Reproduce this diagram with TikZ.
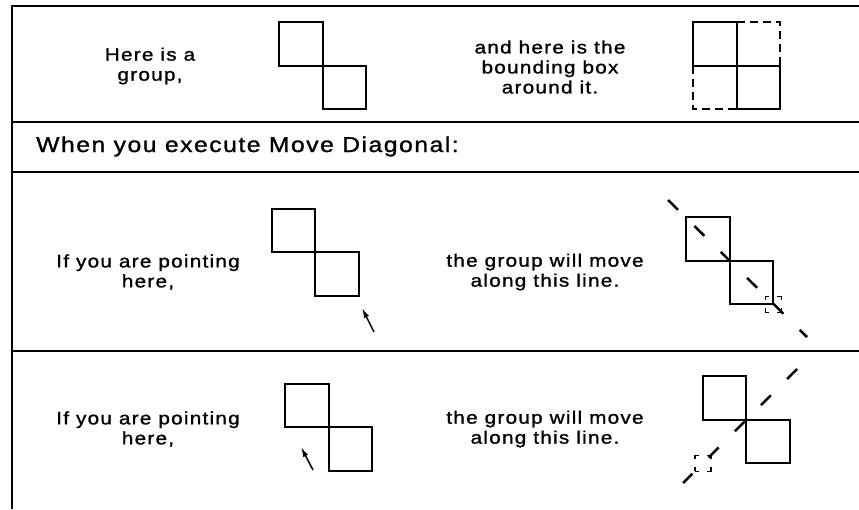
\documentclass[tikz,border=0pt]{standalone}
\usepackage{fontspec}
\setmainfont{Liberation Sans}[LetterSpace=7, FakeStretch=1.15, FakeBold=1.2]
\usetikzlibrary{arrows.meta}

\begin{document}
\begin{tikzpicture}[x=1pt, y=-1pt,
  every node/.style={font=\fontsize{18}{20}\selectfont, align=center, inner sep=0pt},
  sq/.style={draw, line width=2.2pt, minimum size=43.5pt, outer sep=0pt},
  rule/.style={line width=2pt},
  bbdash/.style={line width=2.2pt, dash pattern=on 8pt off 5pt},
  diag/.style={line width=2.5pt, dash pattern=on 14pt off 23pt},
  cornerbox/.style={draw, line width=1.5pt, minimum size=16pt, outer sep=0pt, dash pattern=on 8pt off 8pt, dash phase=4pt},
  ptr/.style={line width=1.5pt, -{Latex[length=10pt, width=5.5pt]}}]
\useasboundingbox (0,0) rectangle (859,509);
% panel rules
\coordinate (tl) at (12,6);
\coordinate (tr) at (859,6);
\coordinate (bl) at (12,509);
\draw[rule] (tr) -- (tl) -- (bl);
\foreach \y in {122,172,351}
  \draw[rule] (12,\y) -- (859,\y);

% a group and its bounding box
\node (here) at (150,66) {Here is a\\group,};
\node[sq] (ga) at (301,44) {};
\node[sq, anchor=north west] (gb) at (ga.south east) {};
\node (bbtext) at (550,67) {and here is the\\bounding box\\around it.};
\node[sq] (ba) at (715,44) {};
\node[sq, anchor=north west] (bb) at (ba.south east) {};
\draw[bbdash] (ba.north east) -- (ba.north east -| bb.east) -- (bb.north east);
\draw[bbdash] (ba.south west) -- (ba.south west |- bb.south) -- (bb.south west);

\node[font=\fontsize{21.5}{24}\selectfont, anchor=base west] (when) at (36,152) {When you execute Move Diagonal:};

% pointing below right
\node (point3) at (148,272) {If you are pointing\\here,};
\node[sq] (la) at (293.5,230.5) {};
\node[sq, anchor=north west] (lb) at (la.south east) {};
\coordinate (p3) at (374,332);
\coordinate (p3tip) at (362,308);
\draw[ptr] (p3) -- (p3tip);
\node (move3) at (545,272) {the group will move\\along this line.};
\node[sq] (ra) at (708,239) {};
\node[sq, anchor=north west] (rb) at (ra.south east) {};
\coordinate (d3a) at (668,200);
\coordinate (d3b) at (807,337);
\draw[diag] (d3a) -- (d3b);
\node[cornerbox] (c3) at (rb.south east) {};

% pointing below left
\node (point4) at (148,429) {If you are pointing\\here,};
\node[sq] (ma) at (307,405.5) {};
\node[sq, anchor=north west] (mb) at (ma.south east) {};
\coordinate (p4) at (313,470);
\coordinate (p4tip) at (301,447);
\draw[ptr] (p4) -- (p4tip);
\node (move4) at (545,429) {the group will move\\along this line.};
\node[sq] (ua) at (724.5,398) {};
\node[sq, anchor=north west] (ub) at (ua.south east) {};
\coordinate (d4a) at (797,369);
\coordinate (d4b) at (683,483);
\draw[diag] (d4a) -- (d4b);
\node[cornerbox] (c4) at (ua.south west |- ub.south) {};
\end{tikzpicture}
\end{document}
